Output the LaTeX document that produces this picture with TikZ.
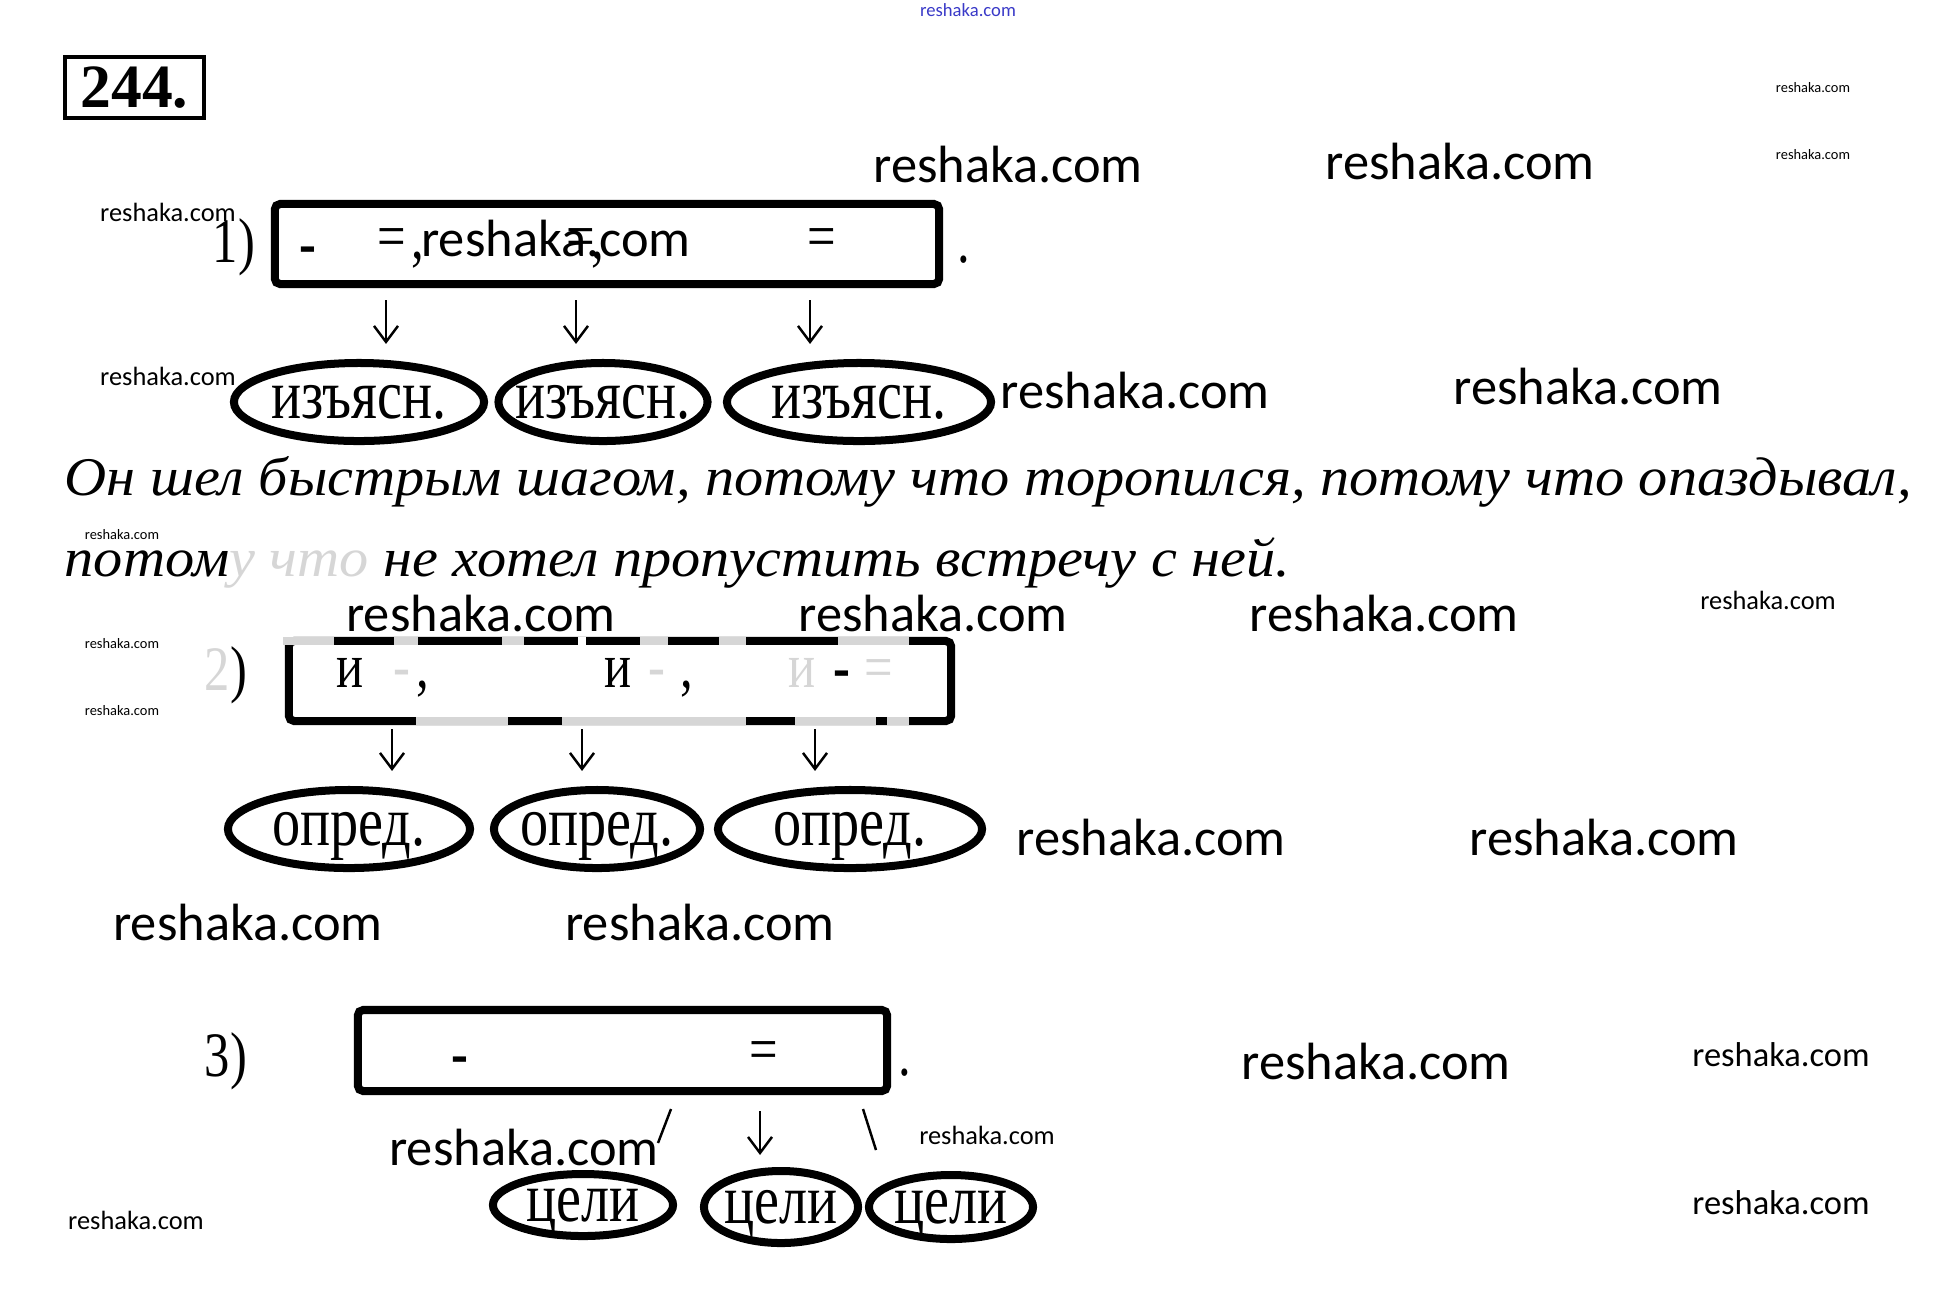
\documentclass[tikz,border=0pt]{standalone}
\usepackage{fontspec}
\setmainfont{Liberation Serif}
\newfontfamily\narrowserif[FakeStretch=0.8]{Liberation Serif}
\newfontfamily\sentfont[FakeStretch=1.07]{Liberation Serif}
\newfontfamily\wmfont{Carlito}
\usetikzlibrary{arrows.meta, shapes.geometric, calc}
\definecolor{ghostgray}{gray}{0.84}
\definecolor{wmblue}{HTML}{3A3AC8}

\begin{document}
\begin{tikzpicture}[x=0.01cm, y=-0.01cm,
  schemebox/.style={draw, line width=0.08cm, rounded corners=1.5pt,
                    minimum height=0.8cm, inner sep=0pt},
  oval/.style={draw, ellipse, line width=0.08cm, inner xsep=-0.3cm,
               inner ysep=0pt, minimum height=0.78cm, text depth=0pt,
               font=\narrowserif\fontsize{20}{20}\selectfont},
  boxsign/.style={anchor=base, inner sep=0pt,
                  font=\narrowserif\fontsize{18}{18}\selectfont},
  boldsign/.style={boxsign, font=\narrowserif\bfseries\fontsize{18}{18}\selectfont},
  arr/.style={-{Straight Barb[length=1.6mm,width=2.4mm]}, line width=0.7pt},
  faded/.style={draw=ghostgray, line width=0.085cm},
  sentence/.style={anchor=base west, inner sep=0pt,
                   font=\sentfont\itshape\fontsize{15.5}{16}\selectfont},
  wmbig/.style={inner sep=0pt, font=\wmfont\fontsize{14.9}{15}\selectfont},
  wmlarge/.style={inner sep=0pt, font=\wmfont\fontsize{9.8}{10}\selectfont},
  wmmid/.style={inner sep=0pt, font=\wmfont\fontsize{7.5}{8}\selectfont},
  wmsmall/.style={inner sep=0pt, font=\wmfont\fontsize{4.1}{5}\selectfont}
]
  \useasboundingbox[fill=white] (0,0) rectangle (1933,1293);

  % number of the exercise
  \node[draw, line width=0.04cm, minimum width=1.39cm, minimum height=0.61cm,
        inner sep=0pt, font=\bfseries\fontsize{17.5}{18}\selectfont]
    (num) at (134.5,87.5) {244.};

  % 1)
  \node[boxsign] (n1) at (234,262) {1)};
  \node[schemebox, minimum width=6.64cm] (box1) at (607,244) {};
  \node[boldsign] (s1a) at (308,264) {-};
  \node[boxsign] (s1b) at (392,257) {=};
  \node[boxsign] (s1c) at (418,258) {,};
  \node[boxsign] (s1d) at (581,257) {=};
  \node[boxsign] (s1e) at (598,258) {,};
  \node[boxsign] (s1f) at (822,257) {=};
  \node[boxsign] (s1g) at (964,262) {.};

  \node[oval, minimum width=2.50cm] (ea) at (359,402) {изъясн.};
  \node[oval, minimum width=2.09cm] (eb) at (603,402) {изъясн.};
  \node[oval, minimum width=2.64cm] (ec) at (859,402) {изъясн.};

  \coordinate (ta) at (386,300);
  \coordinate (tb) at (576,300);
  \coordinate (tc) at (810,300);
  \foreach \t/\e in {ta/ea, tb/eb, tc/ec}
    \draw[arr] (\t) -- ($(\t |- \e.north)+(0,-15)$);

  \node[sentence] (sa) at (64,495)
    {Он шел быстрым шагом, потому что торопился, потому что опаздывал,};
  \node[sentence] (sb) at (64,576)
    {потом\textcolor{ghostgray}{у что} не хотел пропустить встречу с ней.};

  % 2)
  \node[boxsign] (n2) at (226,690) {\textcolor{ghostgray}{2})};
  \node[schemebox, minimum width=6.62cm] (box2) at (620,681) {};
  \foreach \a/\b in {283/334, 394/418, 502/524, 640/668, 719/746, 838/909}
    \draw[faded] (\a,641) -- (\b,641);
  \foreach \a/\b in {416/508, 562/746, 795/876, 887/909}
    \draw[faded] (\a,721) -- (\b,721);
  \draw[white, line width=0.09cm] (578,641) -- (586,641);
  \node[boxsign] (s2a) at (350,687) {и};
  \node[boxsign, text=ghostgray] (s2b) at (402,687) {-};
  \node[boxsign] (s2c) at (423,687) {,};
  \node[boxsign] (s2d) at (618,687) {и};
  \node[boxsign, text=ghostgray] (s2e) at (657,687) {-};
  \node[boxsign] (s2f) at (687,687) {,};
  \node[boxsign, text=ghostgray] (s2g) at (802,687) {и};
  \node[boldsign] (s2h) at (842,688) {-};
  \node[boxsign, text=ghostgray] (s2i) at (879,688) {=};

  \node[oval, minimum width=2.42cm] (fa) at (349,829) {опред.};
  \node[oval, minimum width=2.06cm] (fb) at (597,829) {опред.};
  \node[oval, minimum width=2.64cm] (fc) at (850,829) {опред.};

  \coordinate (ua) at (392,729);
  \coordinate (ub) at (582,729);
  \coordinate (uc) at (815,729);
  \foreach \t/\e in {ua/fa, ub/fb, uc/fc}
    \draw[arr] (\t) -- ($(\t |- \e.north)+(0,-15)$);

  % 3)
  \node[boxsign] (n3) at (226,1076) {3)};
  \node[schemebox, minimum width=5.29cm, minimum height=0.81cm] (box3) at (622.5,1050.5) {};
  \node[boldsign] (s3a) at (460,1074) {-};
  \node[boxsign] (s3b) at (764,1070) {=};
  \node[boxsign] (s3c) at (905,1075) {.};

  \node[oval, minimum width=1.80cm, minimum height=0.62cm] (ga) at (583,1205) {цели};
  \node[oval, minimum width=1.54cm, minimum height=0.72cm] (gb) at (781,1207) {цели};
  \node[oval, minimum width=1.64cm, minimum height=0.64cm] (gc) at (951,1207) {цели};

  \coordinate (tm) at (760,1111);
  \draw[arr] (tm) -- ($(tm |- gb.north)+(0,-12)$);
  \coordinate (sl1) at (671,1109);
  \coordinate (sl2) at (658,1143);
  \coordinate (sr1) at (863,1109);
  \coordinate (sr2) at (876,1150);
  \draw[line width=0.7pt] (sl1) -- (sl2);
  \draw[line width=0.7pt] (sr1) -- (sr2);

  % watermarks
  \node[inner sep=0pt, text=wmblue, font=\wmfont\fontsize{5.3}{6}\selectfont] (wtop) at (968,10) {reshaka.com};
  \foreach \p [count=\i] in {(1008,165),(1460,161),(556,238),(1135,390),(1588,386),
      (481,613),(933,613),(1384,613),(1151,837),(1604,837),(248,922),(700,922),
      (1376,1061),(524,1147)}
    \node[wmbig] (wb\i) at \p {reshaka.com};
  \foreach \p [count=\i] in {(1781,1055),(1781,1203)}
    \node[wmlarge] (wl\i) at \p {reshaka.com};
  \foreach \p [count=\i] in {(168,212),(168,376),(1768,600),(136,1220),(987,1135)}
    \node[wmmid] (wm\i) at \p {reshaka.com};
  \foreach \p [count=\i] in {(1813,88),(1813,155),(122,535),(122,644),(122,711)}
    \node[wmsmall] (ws\i) at \p {reshaka.com};
\end{tikzpicture}
\end{document}
